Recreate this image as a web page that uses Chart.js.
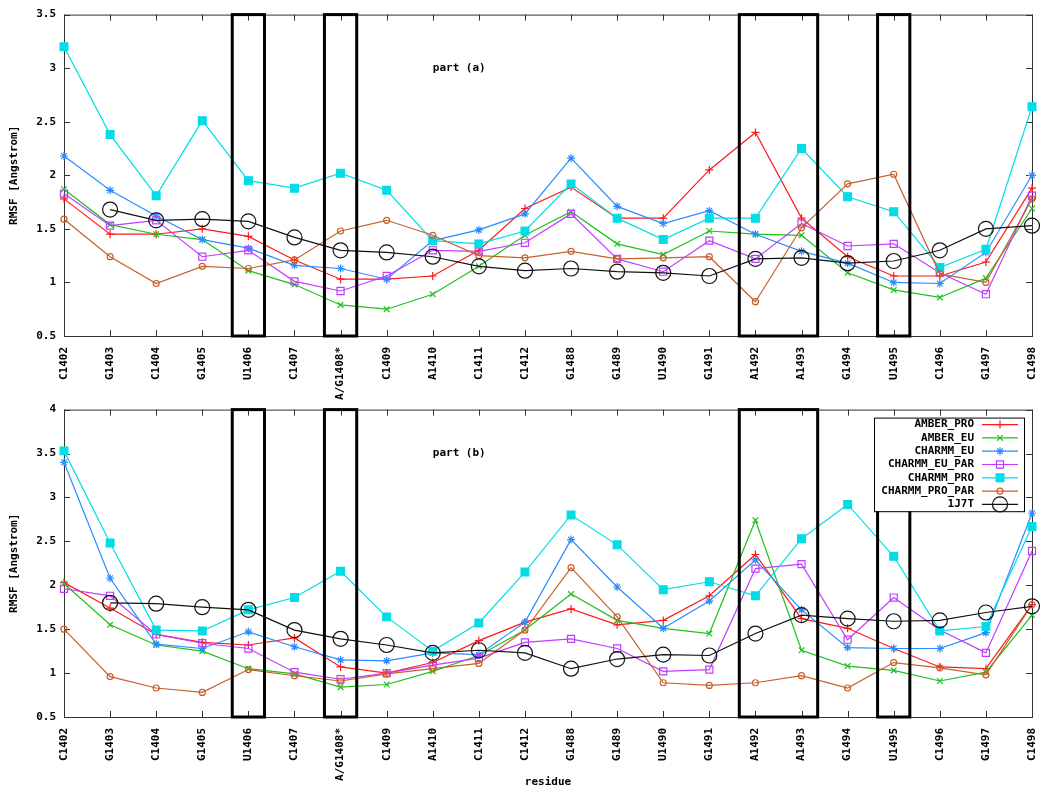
<!DOCTYPE html>
<html>
<head>
<meta charset="utf-8">
<script src="https://cdn.jsdelivr.net/npm/chart.js@4.4.1/dist/chart.umd.min.js"></script>
<style>
  body { margin: 0; background: #fff; }
  .wrap { position: absolute; left: 0; width: 1050px; }
  #wrapA { top: 0; height: 400px; }
  #wrapB { top: 395px; height: 397px; }
</style>
</head>
<body>
<div class="wrap" id="wrapA"><canvas id="chartA"></canvas></div>
<div class="wrap" id="wrapB"><canvas id="chartB"></canvas></div>
<script>
const residues = ['C1402', 'G1403', 'C1404', 'G1405', 'U1406', 'C1407', 'A/G1408*', 'C1409', 'A1410', 'C1411', 'C1412',
                  'G1488', 'G1489', 'U1490', 'G1491', 'A1492', 'A1493', 'G1494', 'U1495', 'C1496', 'G1497', 'C1498'];

// part (a)
const amberProA     = [1.78, 1.45, 1.45, 1.50, 1.43, 1.21, 1.03, 1.03, 1.06, 1.30, 1.69, 1.89, 1.60, 1.60, 2.05, 2.40, 1.60, 1.24, 1.06, 1.06, 1.19, 1.88];
const amberEuA      = [1.87, 1.54, 1.45, 1.40, 1.11, 0.98, 0.79, 0.75, 0.89, 1.15, 1.44, 1.66, 1.36, 1.26, 1.48, 1.45, 1.44, 1.09, 0.93, 0.86, 1.04, 1.69];
const charmmEuA     = [2.18, 1.86, 1.62, 1.40, 1.32, 1.16, 1.13, 1.03, 1.39, 1.49, 1.64, 2.16, 1.71, 1.55, 1.67, 1.45, 1.29, 1.18, 1.00, 0.99, 1.28, 2.00];
const charmmEuParA  = [1.83, 1.53, 1.58, 1.24, 1.30, 1.01, 0.92, 1.06, 1.30, 1.29, 1.37, 1.64, 1.22, 1.10, 1.39, 1.22, 1.55, 1.34, 1.36, 1.09, 0.89, 1.81];
const charmmProA    = [3.20, 2.38, 1.81, 2.51, 1.95, 1.88, 2.02, 1.86, 1.39, 1.36, 1.48, 1.92, 1.60, 1.40, 1.60, 1.60, 2.25, 1.80, 1.66, 1.14, 1.31, 2.64];
const charmmProParA = [1.59, 1.24, 0.99, 1.15, 1.13, 1.21, 1.48, 1.58, 1.44, 1.25, 1.23, 1.29, 1.22, 1.23, 1.24, 0.82, 1.51, 1.92, 2.01, 1.08, 1.00, 1.78];
const j7tA          = [null, 1.68, 1.58, 1.59, 1.57, 1.42, 1.30, 1.28, 1.24, 1.15, 1.11, 1.13, 1.10, 1.09, 1.06, 1.22, 1.23, 1.18, 1.20, 1.30, 1.50, 1.53];

// part (b)
const amberProB     = [2.03, 1.74, 1.44, 1.35, 1.32, 1.40, 1.07, 1.00, 1.12, 1.37, 1.58, 1.73, 1.55, 1.60, 1.88, 2.35, 1.62, 1.51, 1.28, 1.07, 1.05, 1.78];
const amberEuB      = [2.02, 1.55, 1.32, 1.25, 1.05, 0.99, 0.84, 0.87, 1.02, 1.20, 1.49, 1.90, 1.60, 1.51, 1.45, 2.74, 1.26, 1.08, 1.03, 0.91, 1.01, 1.66];
const charmmEuB     = [3.40, 2.08, 1.33, 1.28, 1.47, 1.30, 1.15, 1.14, 1.23, 1.21, 1.58, 2.52, 1.98, 1.51, 1.82, 2.29, 1.72, 1.29, 1.28, 1.28, 1.46, 2.82];
const charmmEuParB  = [1.96, 1.88, 1.44, 1.34, 1.28, 1.01, 0.93, 1.00, 1.09, 1.17, 1.35, 1.39, 1.28, 1.02, 1.04, 2.19, 2.24, 1.38, 1.86, 1.49, 1.23, 2.39];
const charmmProB    = [3.53, 2.48, 1.49, 1.48, 1.72, 1.86, 2.16, 1.64, 1.25, 1.57, 2.15, 2.80, 2.46, 1.95, 2.04, 1.88, 2.53, 2.92, 2.33, 1.48, 1.53, 2.67];
const charmmProParB = [1.50, 0.96, 0.83, 0.78, 1.04, 0.97, 0.91, 0.99, 1.05, 1.11, 1.49, 2.20, 1.64, 0.89, 0.86, 0.89, 0.97, 0.83, 1.12, 1.06, 0.98, 1.78];
const j7tB          = [null, 1.80, 1.79, 1.75, 1.72, 1.49, 1.39, 1.32, 1.23, 1.26, 1.23, 1.05, 1.16, 1.21, 1.20, 1.45, 1.66, 1.62, 1.59, 1.60, 1.69, 1.76];

// highlighted residues: [first, last, top of box]
const boxesA = [['U1406', 'U1406', 3.5], ['A/G1408*', 'A/G1408*', 3.5], ['A1492', 'A1493', 3.5], ['U1495', 'U1495', 3.5]];
const boxesB = [['U1406', 'U1406', 4], ['A/G1408*', 'A/G1408*', 4], ['A1492', 'A1493', 4], ['U1495', 'U1495', 2.86]];

const FONT = "'DejaVu Sans Mono', 'Liberation Mono', monospace";
const tickFont = { family: FONT, size: 11, weight: 'bold' };

const series = [
  { label: 'AMBER_PRO',      color: '#ff1a1a', style: 'cross',    r: 4,   fill: false },
  { label: 'AMBER_EU',       color: '#1ec01e', style: 'crossRot', r: 4,   fill: false },
  { label: 'CHARMM_EU',      color: '#2a8cff', style: 'star',     r: 4,   fill: false },
  { label: 'CHARMM_EU_PAR',  color: '#c03cff', style: 'rect',     r: 5,   fill: false },
  { label: 'CHARMM_PRO',     color: '#00dde6', style: 'rect',     r: 5.5, fill: true },
  { label: 'CHARMM_PRO_PAR', color: '#c8602a', style: 'circle',   r: 3,   fill: false },
  { label: '1J7T',           color: '#111111', style: 'circle',   r: 7.5, fill: false }
];

function makeDatasets(values) {
  return series.map((s, i) => ({
    label: s.label,
    data: values[i],
    borderColor: s.color,
    backgroundColor: s.fill ? s.color : 'rgba(0,0,0,0)',
    borderWidth: 1.2,
    pointStyle: s.style,
    pointRadius: s.r,
    pointBorderWidth: 1.2,
    pointBorderColor: s.color,
    pointBackgroundColor: s.fill ? s.color : 'rgba(0,0,0,0)',
    tension: 0,
    clip: false,
    order: series.length - i
  }));
}

// frame with inward tick marks on all four sides
const framePlugin = {
  id: 'frame',
  beforeDatasetsDraw(chart) {
    const { ctx, chartArea: a, scales: { x, y } } = chart;
    ctx.save();
    ctx.strokeStyle = '#333';
    ctx.lineWidth = 1;
    ctx.strokeRect(a.left + 0.5, a.top + 0.5, a.right - a.left, a.bottom - a.top);
    ctx.beginPath();
    residues.forEach((r, i) => {
      const px = Math.round(x.getPixelForValue(i)) + 0.5;
      ctx.moveTo(px, a.bottom); ctx.lineTo(px, a.bottom - 6);
      ctx.moveTo(px, a.top); ctx.lineTo(px, a.top + 6);
    });
    y.ticks.forEach(t => {
      const py = Math.round(y.getPixelForValue(t.value)) + 0.5;
      ctx.moveTo(a.left, py); ctx.lineTo(a.left + 6, py);
      ctx.moveTo(a.right, py); ctx.lineTo(a.right - 6, py);
    });
    ctx.stroke();
    ctx.restore();
  }
};

const boxPlugin = {
  id: 'boxes',
  afterDatasetsDraw(chart, args, opts) {
    const { ctx, scales: { x, y } } = chart;
    ctx.save();
    ctx.strokeStyle = '#000';
    ctx.lineWidth = 3;
    opts.boxes.forEach(([first, last, top]) => {
      const x1 = x.getPixelForValue(residues.indexOf(first) - 0.35);
      const x2 = x.getPixelForValue(residues.indexOf(last) + 0.35);
      const y1 = y.getPixelForValue(top);
      const y2 = y.getPixelForValue(y.min);
      ctx.strokeRect(x1, y1, x2 - x1, y2 - y1);
    });
    // part label
    ctx.fillStyle = '#000';
    ctx.font = `bold 11px ${FONT}`;
    ctx.textAlign = 'left';
    ctx.textBaseline = 'middle';
    ctx.fillText(opts.label, x.getPixelForValue(residues.indexOf('A1410')), y.getPixelForValue(opts.labelY));
    ctx.restore();
  }
};

// gnuplot style key: text on the left, sample line + marker on the right
const keyPlugin = {
  id: 'key',
  afterDraw(chart, args, opts) {
    if (!opts.show) return;
    const { ctx, chartArea: a } = chart;
    const w = 150, rowH = 13.3;
    const h = rowH * series.length + 0.5;
    const left = a.right - 8 - w, top = a.top + 8;
    ctx.save();
    ctx.fillStyle = '#fff';
    ctx.fillRect(left, top, w, h);
    ctx.strokeStyle = '#000';
    ctx.lineWidth = 1;
    ctx.strokeRect(left + 0.5, top + 0.5, w, h);
    ctx.font = `bold 11px ${FONT}`;
    ctx.textAlign = 'right';
    ctx.textBaseline = 'middle';
    chart.data.datasets.forEach((ds, i) => {
      const cy = top + 7 + i * rowH;
      ctx.fillStyle = '#000';
      ctx.fillText(ds.label, left + 100, cy);
      ctx.strokeStyle = ds.borderColor;
      ctx.lineWidth = 1.2;
      ctx.beginPath();
      ctx.moveTo(left + 108, cy); ctx.lineTo(left + 144, cy);
      ctx.stroke();
      ctx.fillStyle = ds.pointBackgroundColor;
      Chart.helpers.drawPoint(ctx, { pointStyle: ds.pointStyle, radius: ds.pointRadius, borderWidth: 1.2, rotation: 0 }, left + 126, cy);
    });
    ctx.restore();
  }
};

function makeChart(id, values, yMax, boxes, label, labelY, padTop, xHeight, xTitle, showKey) {
  return new Chart(document.getElementById(id), {
    type: 'line',
    data: { labels: residues, datasets: makeDatasets(values) },
    options: {
      responsive: true,
      maintainAspectRatio: false,
      animation: false,
      layout: { padding: { top: padTop, right: 18, left: 0, bottom: 0 } },
      scales: {
        x: {
          offset: false,
          grid: { display: false, drawTicks: false },
          border: { display: false },
          ticks: { autoSkip: false, maxRotation: 90, minRotation: 90, padding: 11, color: '#000', font: tickFont },
          title: { display: !!xTitle, text: xTitle, color: '#000', font: tickFont, padding: { top: 0, bottom: 3 } },
          afterFit: s => { s.height = xHeight; s.paddingLeft = 0; s.paddingRight = 0; }
        },
        y: {
          min: 0.5,
          max: yMax,
          grid: { display: false, drawTicks: false },
          border: { display: false },
          ticks: { stepSize: 0.5, padding: 8, color: '#000', font: tickFont, callback: v => String(+v.toFixed(1)) },
          title: { display: true, text: 'RMSF [Angstrom]', color: '#000', font: tickFont, padding: { top: 8, bottom: 0 } },
          afterFit: s => { s.width = 64; }
        }
      },
      plugins: {
        legend: { display: false },
        tooltip: { enabled: false },
        boxes: { boxes: boxes, label: label, labelY: labelY },
        key: { show: showKey }
      }
    },
    plugins: [framePlugin, boxPlugin, keyPlugin]
  });
}

makeChart('chartA',
  [amberProA, amberEuA, charmmEuA, charmmEuParA, charmmProA, charmmProParA, j7tA],
  3.5, boxesA, 'part (a)', 3.0, 14, 64, '', false);

makeChart('chartB',
  [amberProB, amberEuB, charmmEuB, charmmEuParB, charmmProB, charmmProParB, j7tB],
  4, boxesB, 'part (b)', 3.5, 13, 75, 'residue', true);
</script>
</body>
</html>
